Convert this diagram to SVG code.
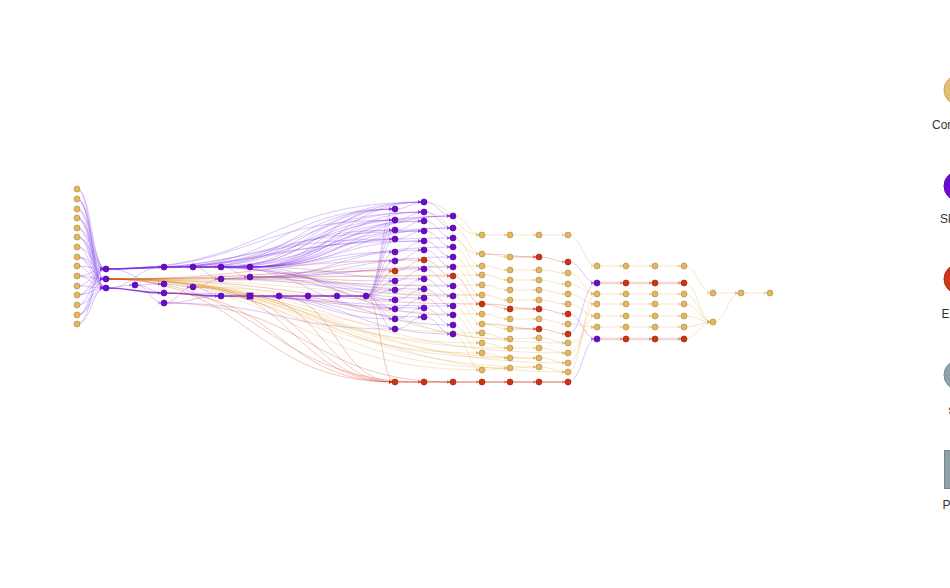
<svg xmlns="http://www.w3.org/2000/svg" width="950" height="588" viewBox="0 0 950 588">
<style>
path{fill:none;stroke-width:1}
.p{stroke:#7b2be6;stroke-opacity:.27;marker-end:url(#mp)}
.t{stroke:#e0a840;stroke-opacity:.27;marker-end:url(#mt)}
.r{stroke:#cc3311;stroke-opacity:.27;marker-end:url(#mr)}
.pb{stroke:#6b0ac9;stroke-opacity:.75;stroke-width:1.6;marker-end:url(#mp)}
.rb{stroke:#cc3311;stroke-opacity:.4;stroke-width:1.8;marker-end:url(#mr)}
.rl{stroke:#d9604a;stroke-opacity:.25;stroke-width:2.6;marker-end:url(#mr)}
.nt{fill:#e0b764;stroke:#b8913f;stroke-width:.7}
.np{fill:#6a0acb;stroke:#53089f;stroke-width:.7}
.nr{fill:#cc3311;stroke:#a2290d;stroke-width:.7}
.lg{font-family:"Liberation Sans",Arial,sans-serif;font-size:12px;fill:#333}
</style>
<defs>
<marker id="mp" viewBox="0 0 10 10" refX="17.5" refY="5" markerWidth="3.5" markerHeight="3.5" markerUnits="userSpaceOnUse" orient="auto"><path d="M0 0L10 5L0 10z" style="fill:#7b2be6;fill-opacity:.4;stroke:none"/></marker>
<marker id="mt" viewBox="0 0 10 10" refX="17.5" refY="5" markerWidth="3.5" markerHeight="3.5" markerUnits="userSpaceOnUse" orient="auto"><path d="M0 0L10 5L0 10z" style="fill:#d9a440;fill-opacity:.4;stroke:none"/></marker>
<marker id="mr" viewBox="0 0 10 10" refX="17.5" refY="5" markerWidth="3.5" markerHeight="3.5" markerUnits="userSpaceOnUse" orient="auto"><path d="M0 0L10 5L0 10z" style="fill:#cc3311;fill-opacity:.4;stroke:none"/></marker>
</defs>
<rect width="950" height="588" fill="#fff"/>
<g id="connectors">
<path class="p" d="M77 189C91.5 189 91.5 269 106 269"/>
<path class="p" d="M77 199C91.5 199 91.5 269 106 269"/>
<path class="p" d="M77 209C91.5 209 91.5 269 106 269"/>
<path class="p" d="M77 218C91.5 218 91.5 269 106 269"/>
<path class="p" d="M77 228C91.5 228 91.5 269 106 269"/>
<path class="p" d="M77 237C91.5 237 91.5 269 106 269"/>
<path class="p" d="M77 247C91.5 247 91.5 269 106 269"/>
<path class="p" d="M77 257C91.5 257 91.5 269 106 269"/>
<path class="p" d="M77 266C91.5 266 91.5 269 106 269"/>
<path class="p" d="M77 276C91.5 276 91.5 269 106 269"/>
<path class="p" d="M77 286C91.5 286 91.5 269 106 269"/>
<path class="p" d="M77 295C91.5 295 91.5 269 106 269"/>
<path class="p" d="M77 305C91.5 305 91.5 269 106 269"/>
<path class="p" d="M77 315C91.5 315 91.5 269 106 269"/>
<path class="p" d="M77 324C91.5 324 91.5 269 106 269"/>
<path class="p" d="M77 189C91.5 189 91.5 288 106 288"/>
<path class="p" d="M77 199C91.5 199 91.5 288 106 288"/>
<path class="p" d="M77 209C91.5 209 91.5 288 106 288"/>
<path class="p" d="M77 218C91.5 218 91.5 288 106 288"/>
<path class="p" d="M77 228C91.5 228 91.5 288 106 288"/>
<path class="p" d="M77 237C91.5 237 91.5 288 106 288"/>
<path class="p" d="M77 247C91.5 247 91.5 288 106 288"/>
<path class="p" d="M77 257C91.5 257 91.5 288 106 288"/>
<path class="p" d="M77 266C91.5 266 91.5 288 106 288"/>
<path class="p" d="M77 276C91.5 276 91.5 288 106 288"/>
<path class="p" d="M77 286C91.5 286 91.5 288 106 288"/>
<path class="p" d="M77 295C91.5 295 91.5 288 106 288"/>
<path class="p" d="M77 305C91.5 305 91.5 288 106 288"/>
<path class="p" d="M77 315C91.5 315 91.5 288 106 288"/>
<path class="p" d="M77 324C91.5 324 91.5 288 106 288"/>
<path class="p" d="M77 199C91.5 199 91.5 279 106 279"/>
<path class="p" d="M77 218C91.5 218 91.5 279 106 279"/>
<path class="p" d="M77 237C91.5 237 91.5 279 106 279"/>
<path class="p" d="M77 257C91.5 257 91.5 279 106 279"/>
<path class="p" d="M77 276C91.5 276 91.5 279 106 279"/>
<path class="p" d="M77 295C91.5 295 91.5 279 106 279"/>
<path class="p" d="M77 315C91.5 315 91.5 279 106 279"/>
<path class="pb" d="M106 269C135 269 135 267 164 267"/>
<path class="p" d="M106 288C120.5 288 120.5 285 135 285"/>
<path class="p" d="M135 285C149.5 285 149.5 284 164 284"/>
<path class="p" d="M135 285C149.5 285 149.5 293 164 293"/>
<path class="p" d="M135 285C149.5 285 149.5 303 164 303"/>
<path class="pb" d="M106 288C135 288 135 293 164 293"/>
<path class="p" d="M106 269C135 269 135 284 164 284"/>
<path class="p" d="M106 288C135 288 135 267 164 267"/>
<path class="pb" d="M164 267L193 267"/>
<path class="pb" d="M193 267L221 267"/>
<path class="pb" d="M221 267L250 267"/>
<path class="p" d="M164 284C178.5 284 178.5 287 193 287"/>
<path class="p" d="M164 303C178.5 303 178.5 287 193 287"/>
<path class="p" d="M193 287C207 287 207 279 221 279"/>
<path class="p" d="M193 287C207 287 207 296 221 296"/>
<path class="pb" d="M164 293C192.5 293 192.5 296 221 296"/>
<path class="p" d="M164 303C192.5 303 192.5 296 221 296"/>
<path class="p" d="M221 279C235.5 279 235.5 277 250 277"/>
<path class="p" d="M221 267C235.5 267 235.5 277 250 277"/>
<path class="p" d="M193 267C207 267 207 279 221 279"/>
<path class="pb" d="M221 296L250 296"/>
<path class="pb" d="M250 296L279 296"/>
<path class="pb" d="M279 296L308 296"/>
<path class="pb" d="M308 296L337 296"/>
<path class="pb" d="M337 296L366 296"/>
<path class="p" d="M250 267C337 267 337 202 424 202"/>
<path class="p" d="M250 267C322.5 267 322.5 209 395 209"/>
<path class="p" d="M250 267C337 267 337 212 424 212"/>
<path class="p" d="M250 267C322.5 267 322.5 220 395 220"/>
<path class="p" d="M250 267C351.5 267 351.5 216 453 216"/>
<path class="p" d="M250 267C337 267 337 221 424 221"/>
<path class="p" d="M250 267C322.5 267 322.5 230 395 230"/>
<path class="p" d="M250 267C351.5 267 351.5 228 453 228"/>
<path class="p" d="M250 267C337 267 337 231 424 231"/>
<path class="p" d="M250 267C322.5 267 322.5 239 395 239"/>
<path class="p" d="M250 267C337 267 337 241 424 241"/>
<path class="p" d="M250 267C322.5 267 322.5 252 395 252"/>
<path class="p" d="M250 267C351.5 267 351.5 247 453 247"/>
<path class="p" d="M221 267C322.5 267 322.5 202 424 202"/>
<path class="p" d="M221 267C308 267 308 209 395 209"/>
<path class="p" d="M221 267C337 267 337 216 453 216"/>
<path class="p" d="M221 267C308 267 308 220 395 220"/>
<path class="p" d="M221 267C322.5 267 322.5 221 424 221"/>
<path class="p" d="M193 267C308.5 267 308.5 202 424 202"/>
<path class="p" d="M193 267C294 267 294 209 395 209"/>
<path class="p" d="M193 267C323 267 323 228 453 228"/>
<path class="p" d="M193 267C308.5 267 308.5 212 424 212"/>
<path class="p" d="M164 267C279.5 267 279.5 209 395 209"/>
<path class="p" d="M164 267C294 267 294 212 424 212"/>
<path class="p" d="M164 267C308.5 267 308.5 216 453 216"/>
<path class="p" d="M164 267C279.5 267 279.5 230 395 230"/>
<path class="p" d="M106 269C265 269 265 202 424 202"/>
<path class="p" d="M106 269C250.5 269 250.5 220 395 220"/>
<path class="p" d="M106 269C279.5 269 279.5 238 453 238"/>
<path class="p" d="M106 269C265 269 265 231 424 231"/>
<path class="p" d="M106 269C250.5 269 250.5 239 395 239"/>
<path class="p" d="M106 269C265 269 265 241 424 241"/>
<path class="p" d="M250 277C322.5 277 322.5 261 395 261"/>
<path class="p" d="M250 277C337 277 337 250 424 250"/>
<path class="p" d="M250 277C351.5 277 351.5 257 453 257"/>
<path class="p" d="M250 277C351.5 277 351.5 267 453 267"/>
<path class="p" d="M250 277C322.5 277 322.5 281 395 281"/>
<path class="p" d="M221 279C322.5 279 322.5 269 424 269"/>
<path class="p" d="M221 279C337 279 337 286 453 286"/>
<path class="p" d="M221 279C308 279 308 290 395 290"/>
<path class="p" d="M250 267C322.5 267 322.5 300 395 300"/>
<path class="p" d="M221 267C308 267 308 309 395 309"/>
<path class="p" d="M193 267C308.5 267 308.5 289 424 289"/>
<path class="p" d="M250 296C322.5 296 322.5 319 395 319"/>
<path class="p" d="M164 303C279.5 303 279.5 329 395 329"/>
<path class="p" d="M221 296C322.5 296 322.5 308 424 308"/>
<path class="p" d="M250 296C337 296 337 317 424 317"/>
<path class="p" d="M279 296C366 296 366 325 453 325"/>
<path class="p" d="M250 296C351.5 296 351.5 334 453 334"/>
<path class="p" d="M164 293C308.5 293 308.5 306 453 306"/>
<path class="p" d="M193 267C323 267 323 296 453 296"/>
<path class="p" d="M250 267C337 267 337 279 424 279"/>
<path class="p" d="M250 277C351.5 277 351.5 315 453 315"/>
<path class="p" d="M221 267C322.5 267 322.5 298 424 298"/>
<path class="p" d="M366 296C380.5 296 380.5 209 395 209"/>
<path class="p" d="M366 296C380.5 296 380.5 220 395 220"/>
<path class="p" d="M366 296C380.5 296 380.5 230 395 230"/>
<path class="p" d="M366 296C380.5 296 380.5 239 395 239"/>
<path class="p" d="M366 296C380.5 296 380.5 252 395 252"/>
<path class="p" d="M366 296C380.5 296 380.5 261 395 261"/>
<path class="r" d="M366 296C380.5 296 380.5 271 395 271"/>
<path class="p" d="M366 296C380.5 296 380.5 281 395 281"/>
<path class="p" d="M366 296C380.5 296 380.5 290 395 290"/>
<path class="p" d="M366 296C380.5 296 380.5 300 395 300"/>
<path class="p" d="M366 296C380.5 296 380.5 309 395 309"/>
<path class="p" d="M366 296C380.5 296 380.5 319 395 319"/>
<path class="p" d="M366 296C380.5 296 380.5 329 395 329"/>
<path class="r" d="M366 296C380.5 296 380.5 382 395 382"/>
<path class="p" d="M395 209C409.5 209 409.5 202 424 202"/>
<path class="p" d="M395 220C409.5 220 409.5 212 424 212"/>
<path class="p" d="M395 230C409.5 230 409.5 221 424 221"/>
<path class="p" d="M395 239C409.5 239 409.5 231 424 231"/>
<path class="p" d="M395 252C409.5 252 409.5 241 424 241"/>
<path class="p" d="M395 261C409.5 261 409.5 250 424 250"/>
<path class="r" d="M395 271C409.5 271 409.5 260 424 260"/>
<path class="p" d="M395 281C409.5 281 409.5 269 424 269"/>
<path class="p" d="M395 290C409.5 290 409.5 279 424 279"/>
<path class="p" d="M395 300C409.5 300 409.5 289 424 289"/>
<path class="p" d="M395 309C409.5 309 409.5 298 424 298"/>
<path class="p" d="M395 319C409.5 319 409.5 308 424 308"/>
<path class="p" d="M395 329C409.5 329 409.5 317 424 317"/>
<path class="p" d="M424 202C438.5 202 438.5 216 453 216"/>
<path class="p" d="M424 212C438.5 212 438.5 228 453 228"/>
<path class="p" d="M424 221C438.5 221 438.5 238 453 238"/>
<path class="p" d="M424 231C438.5 231 438.5 247 453 247"/>
<path class="p" d="M424 241C438.5 241 438.5 257 453 257"/>
<path class="p" d="M424 250C438.5 250 438.5 267 453 267"/>
<path class="r" d="M424 260C438.5 260 438.5 276 453 276"/>
<path class="p" d="M424 269C438.5 269 438.5 286 453 286"/>
<path class="p" d="M424 279C438.5 279 438.5 296 453 296"/>
<path class="p" d="M424 289C438.5 289 438.5 306 453 306"/>
<path class="p" d="M424 298C438.5 298 438.5 315 453 315"/>
<path class="p" d="M424 308C438.5 308 438.5 325 453 325"/>
<path class="p" d="M424 317C438.5 317 438.5 334 453 334"/>
<path class="t" d="M453 216C467.5 216 467.5 235 482 235"/>
<path class="t" d="M453 228C467.5 228 467.5 254 482 254"/>
<path class="t" d="M453 238C467.5 238 467.5 266 482 266"/>
<path class="t" d="M453 247C467.5 247 467.5 275 482 275"/>
<path class="t" d="M453 257C467.5 257 467.5 285 482 285"/>
<path class="t" d="M453 267C467.5 267 467.5 295 482 295"/>
<path class="r" d="M453 276C467.5 276 467.5 304 482 304"/>
<path class="t" d="M453 286C467.5 286 467.5 314 482 314"/>
<path class="t" d="M453 296C467.5 296 467.5 324 482 324"/>
<path class="t" d="M453 306C467.5 306 467.5 333 482 333"/>
<path class="t" d="M453 315C467.5 315 467.5 343 482 343"/>
<path class="t" d="M453 325C467.5 325 467.5 353 482 353"/>
<path class="t" d="M453 334C467.5 334 467.5 370 482 370"/>
<path class="t" d="M424 202C453 202 453 235 482 235"/>
<path class="t" d="M424 212C453 212 453 254 482 254"/>
<path class="rb" d="M395 382L424 382"/>
<path class="rb" d="M424 382L453 382"/>
<path class="rb" d="M453 382L482 382"/>
<path class="rb" d="M482 382L510 382"/>
<path class="rb" d="M510 382L539 382"/>
<path class="rb" d="M539 382L568 382"/>
<path class="t" d="M482 235L510 235"/>
<path class="t" d="M482 254C496 254 496 257 510 257"/>
<path class="t" d="M482 266C496 266 496 270 510 270"/>
<path class="t" d="M482 275C496 275 496 280 510 280"/>
<path class="t" d="M482 285C496 285 496 290 510 290"/>
<path class="t" d="M482 295C496 295 496 300 510 300"/>
<path class="r" d="M482 304C496 304 496 309 510 309"/>
<path class="t" d="M482 314C496 314 496 319 510 319"/>
<path class="t" d="M482 324C496 324 496 329 510 329"/>
<path class="t" d="M482 333C496 333 496 339 510 339"/>
<path class="t" d="M482 343C496 343 496 348 510 348"/>
<path class="t" d="M482 353C496 353 496 358 510 358"/>
<path class="t" d="M482 370C496 370 496 368 510 368"/>
<path class="t" d="M510 235L539 235"/>
<path class="r" d="M510 257L539 257"/>
<path class="t" d="M510 270L539 270"/>
<path class="t" d="M510 280L539 280"/>
<path class="t" d="M510 290L539 290"/>
<path class="t" d="M510 300L539 300"/>
<path class="r" d="M510 309L539 309"/>
<path class="t" d="M510 319L539 319"/>
<path class="r" d="M510 329L539 329"/>
<path class="t" d="M510 339C524.5 339 524.5 338 539 338"/>
<path class="t" d="M510 348L539 348"/>
<path class="t" d="M510 358L539 358"/>
<path class="t" d="M510 368C524.5 368 524.5 367 539 367"/>
<path class="t" d="M539 235L568 235"/>
<path class="r" d="M539 257C553.5 257 553.5 262 568 262"/>
<path class="t" d="M539 270C553.5 270 553.5 273 568 273"/>
<path class="t" d="M539 280C553.5 280 553.5 284 568 284"/>
<path class="t" d="M539 290C553.5 290 553.5 294 568 294"/>
<path class="t" d="M539 300C553.5 300 553.5 304 568 304"/>
<path class="r" d="M539 309C553.5 309 553.5 314 568 314"/>
<path class="t" d="M539 319C553.5 319 553.5 324 568 324"/>
<path class="r" d="M539 329C553.5 329 553.5 334 568 334"/>
<path class="t" d="M539 338C553.5 338 553.5 343 568 343"/>
<path class="t" d="M539 348C553.5 348 553.5 353 568 353"/>
<path class="t" d="M539 358C553.5 358 553.5 363 568 363"/>
<path class="t" d="M539 367C553.5 367 553.5 372 568 372"/>
<path class="r" d="M482 254C510.5 254 510.5 257 539 257"/>
<path class="r" d="M482 324C510.5 324 510.5 329 539 329"/>
<path class="r" d="M482 304C510.5 304 510.5 309 539 309"/>
<path class="t" d="M568 235C582.5 235 582.5 266 597 266"/>
<path class="p" d="M568 262C582.5 262 582.5 283 597 283"/>
<path class="p" d="M568 334C582.5 334 582.5 283 597 283"/>
<path class="p" d="M568 314C582.5 314 582.5 339 597 339"/>
<path class="p" d="M568 382C582.5 382 582.5 339 597 339"/>
<path class="t" d="M568 273C582.5 273 582.5 294 597 294"/>
<path class="t" d="M568 284C582.5 284 582.5 294 597 294"/>
<path class="t" d="M568 294C582.5 294 582.5 304 597 304"/>
<path class="t" d="M568 304C582.5 304 582.5 316 597 316"/>
<path class="t" d="M568 324C582.5 324 582.5 327 597 327"/>
<path class="t" d="M568 343C582.5 343 582.5 327 597 327"/>
<path class="t" d="M568 353C582.5 353 582.5 316 597 316"/>
<path class="t" d="M568 363C582.5 363 582.5 304 597 304"/>
<path class="t" d="M568 372C582.5 372 582.5 294 597 294"/>
<path class="t" d="M597 266L626 266"/>
<path class="t" d="M626 266L655 266"/>
<path class="t" d="M655 266L684 266"/>
<path class="rl" d="M597 283L626 283"/>
<path class="rl" d="M626 283L655 283"/>
<path class="rl" d="M655 283L684 283"/>
<path class="t" d="M597 294L626 294"/>
<path class="t" d="M626 294L655 294"/>
<path class="t" d="M655 294L684 294"/>
<path class="t" d="M597 304L626 304"/>
<path class="t" d="M626 304L655 304"/>
<path class="t" d="M655 304L684 304"/>
<path class="t" d="M597 316L626 316"/>
<path class="t" d="M626 316L655 316"/>
<path class="t" d="M655 316L684 316"/>
<path class="t" d="M597 327L626 327"/>
<path class="t" d="M626 327L655 327"/>
<path class="t" d="M655 327L684 327"/>
<path class="rl" d="M597 339L626 339"/>
<path class="rl" d="M626 339L655 339"/>
<path class="rl" d="M655 339L684 339"/>
<path class="t" d="M684 266C698.5 266 698.5 293 713 293"/>
<path class="t" d="M684 283C698.5 283 698.5 322 713 322"/>
<path class="t" d="M684 294C698.5 294 698.5 322 713 322"/>
<path class="t" d="M684 304C698.5 304 698.5 322 713 322"/>
<path class="t" d="M684 316C698.5 316 698.5 322 713 322"/>
<path class="t" d="M684 327C698.5 327 698.5 322 713 322"/>
<path class="t" d="M684 339C698.5 339 698.5 322 713 322"/>
<path class="t" d="M713 293L741 293"/>
<path class="t" d="M713 322C727 322 727 293 741 293"/>
<path class="t" d="M741 293L770 293"/>
<path class="t" d="M106 279C294 279 294 266 482 266"/>
<path class="t" d="M106 279C294 279 294 275 482 275"/>
<path class="t" d="M106 279C294 279 294 285 482 285"/>
<path class="t" d="M106 279C294 279 294 295 482 295"/>
<path class="t" d="M106 279C294 279 294 314 482 314"/>
<path class="t" d="M106 279C294 279 294 333 482 333"/>
<path class="t" d="M106 279C294 279 294 343 482 343"/>
<path class="t" d="M106 279C294 279 294 353 482 353"/>
<path class="t" d="M106 279C294 279 294 370 482 370"/>
<path class="t" d="M106 279C308 279 308 348 510 348"/>
<path class="t" d="M106 279C308 279 308 358 510 358"/>
<path class="t" d="M106 279C308 279 308 368 510 368"/>
<path class="t" d="M106 279C322.5 279 322.5 358 539 358"/>
<path class="t" d="M106 279C322.5 279 322.5 367 539 367"/>
<path class="t" d="M106 279C337 279 337 353 568 353"/>
<path class="t" d="M106 279C337 279 337 363 568 363"/>
<path class="t" d="M106 279C337 279 337 372 568 372"/>
<path class="t" d="M250 277C366 277 366 295 482 295"/>
<path class="t" d="M250 277C380 277 380 339 510 339"/>
<path class="t" d="M193 287C380.5 287 380.5 343 568 343"/>
<path class="r" d="M106 279C250.5 279 250.5 271 395 271"/>
<path class="r" d="M106 279C265 279 265 260 424 260"/>
<path class="r" d="M106 279C279.5 279 279.5 276 453 276"/>
<path class="r" d="M106 279C250.5 279 250.5 382 395 382"/>
<path class="r" d="M106 279C265 279 265 382 424 382"/>
<path class="r" d="M164 293C279.5 293 279.5 382 395 382"/>
<path class="r" d="M193 287C294 287 294 382 395 382"/>
<path class="r" d="M221 296C308 296 308 382 395 382"/>
<path class="r" d="M250 296C322.5 296 322.5 382 395 382"/>
<path class="r" d="M279 296C337 296 337 382 395 382"/>
<path class="r" d="M164 303C308.5 303 308.5 382 453 382"/>
<path class="r" d="M106 279C294 279 294 304 482 304"/>
</g>
<g id="nodes">
<g id="a0"><circle class="nt" cx="77" cy="189" r="3"/></g>
<g id="a1"><circle class="nt" cx="77" cy="199" r="3"/></g>
<g id="a2"><circle class="nt" cx="77" cy="209" r="3"/></g>
<g id="a3"><circle class="nt" cx="77" cy="218" r="3"/></g>
<g id="a4"><circle class="nt" cx="77" cy="228" r="3"/></g>
<g id="a5"><circle class="nt" cx="77" cy="237" r="3"/></g>
<g id="a6"><circle class="nt" cx="77" cy="247" r="3"/></g>
<g id="a7"><circle class="nt" cx="77" cy="257" r="3"/></g>
<g id="a8"><circle class="nt" cx="77" cy="266" r="3"/></g>
<g id="a9"><circle class="nt" cx="77" cy="276" r="3"/></g>
<g id="a10"><circle class="nt" cx="77" cy="286" r="3"/></g>
<g id="a11"><circle class="nt" cx="77" cy="295" r="3"/></g>
<g id="a12"><circle class="nt" cx="77" cy="305" r="3"/></g>
<g id="a13"><circle class="nt" cx="77" cy="315" r="3"/></g>
<g id="a14"><circle class="nt" cx="77" cy="324" r="3"/></g>
<g id="b0"><circle class="np" cx="106" cy="269" r="3"/></g>
<g id="b1"><circle class="np" cx="106" cy="279" r="3"/></g>
<g id="b2"><circle class="np" cx="106" cy="288" r="3"/></g>
<g id="c0"><circle class="np" cx="135" cy="285" r="3"/></g>
<g id="d0"><circle class="np" cx="164" cy="267" r="3"/></g>
<g id="d1"><circle class="np" cx="164" cy="284" r="3"/></g>
<g id="d2"><circle class="np" cx="164" cy="293" r="3"/></g>
<g id="d3"><circle class="np" cx="164" cy="303" r="3"/></g>
<g id="e0"><circle class="np" cx="193" cy="267" r="3"/></g>
<g id="e1"><circle class="np" cx="193" cy="287" r="3"/></g>
<g id="f0"><circle class="np" cx="221" cy="267" r="3"/></g>
<g id="f1"><circle class="np" cx="221" cy="279" r="3"/></g>
<g id="f2"><circle class="np" cx="221" cy="296" r="3"/></g>
<g id="g0"><circle class="np" cx="250" cy="267" r="3"/></g>
<g id="g1"><circle class="np" cx="250" cy="277" r="3"/></g>
<g id="g2"><rect class="np" x="247" y="293" width="6" height="6"/></g>
<g id="h0"><circle class="np" cx="279" cy="296" r="3"/></g>
<g id="i0"><circle class="np" cx="308" cy="296" r="3"/></g>
<g id="j0"><circle class="np" cx="337" cy="296" r="3"/></g>
<g id="k0"><circle class="np" cx="366" cy="296" r="3"/></g>
<g id="l0"><circle class="np" cx="395" cy="209" r="3"/></g>
<g id="l1"><circle class="np" cx="395" cy="220" r="3"/></g>
<g id="l2"><circle class="np" cx="395" cy="230" r="3"/></g>
<g id="l3"><circle class="np" cx="395" cy="239" r="3"/></g>
<g id="l4"><circle class="np" cx="395" cy="252" r="3"/></g>
<g id="l5"><circle class="np" cx="395" cy="261" r="3"/></g>
<g id="l6"><circle class="nr" cx="395" cy="271" r="3"/></g>
<g id="l7"><circle class="np" cx="395" cy="281" r="3"/></g>
<g id="l8"><circle class="np" cx="395" cy="290" r="3"/></g>
<g id="l9"><circle class="np" cx="395" cy="300" r="3"/></g>
<g id="l10"><circle class="np" cx="395" cy="309" r="3"/></g>
<g id="l11"><circle class="np" cx="395" cy="319" r="3"/></g>
<g id="l12"><circle class="np" cx="395" cy="329" r="3"/></g>
<g id="l13"><circle class="nr" cx="395" cy="382" r="3"/></g>
<g id="m0"><circle class="np" cx="424" cy="202" r="3"/></g>
<g id="m1"><circle class="np" cx="424" cy="212" r="3"/></g>
<g id="m2"><circle class="np" cx="424" cy="221" r="3"/></g>
<g id="m3"><circle class="np" cx="424" cy="231" r="3"/></g>
<g id="m4"><circle class="np" cx="424" cy="241" r="3"/></g>
<g id="m5"><circle class="np" cx="424" cy="250" r="3"/></g>
<g id="m6"><circle class="nr" cx="424" cy="260" r="3"/></g>
<g id="m7"><circle class="np" cx="424" cy="269" r="3"/></g>
<g id="m8"><circle class="np" cx="424" cy="279" r="3"/></g>
<g id="m9"><circle class="np" cx="424" cy="289" r="3"/></g>
<g id="m10"><circle class="np" cx="424" cy="298" r="3"/></g>
<g id="m11"><circle class="np" cx="424" cy="308" r="3"/></g>
<g id="m12"><circle class="np" cx="424" cy="317" r="3"/></g>
<g id="m13"><circle class="nr" cx="424" cy="382" r="3"/></g>
<g id="n0"><circle class="np" cx="453" cy="216" r="3"/></g>
<g id="n1"><circle class="np" cx="453" cy="228" r="3"/></g>
<g id="n2"><circle class="np" cx="453" cy="238" r="3"/></g>
<g id="n3"><circle class="np" cx="453" cy="247" r="3"/></g>
<g id="n4"><circle class="np" cx="453" cy="257" r="3"/></g>
<g id="n5"><circle class="np" cx="453" cy="267" r="3"/></g>
<g id="n6"><circle class="nr" cx="453" cy="276" r="3"/></g>
<g id="n7"><circle class="np" cx="453" cy="286" r="3"/></g>
<g id="n8"><circle class="np" cx="453" cy="296" r="3"/></g>
<g id="n9"><circle class="np" cx="453" cy="306" r="3"/></g>
<g id="n10"><circle class="np" cx="453" cy="315" r="3"/></g>
<g id="n11"><circle class="np" cx="453" cy="325" r="3"/></g>
<g id="n12"><circle class="np" cx="453" cy="334" r="3"/></g>
<g id="n13"><circle class="nr" cx="453" cy="382" r="3"/></g>
<g id="o0"><circle class="nt" cx="482" cy="235" r="3"/></g>
<g id="o1"><circle class="nt" cx="482" cy="254" r="3"/></g>
<g id="o2"><circle class="nt" cx="482" cy="266" r="3"/></g>
<g id="o3"><circle class="nt" cx="482" cy="275" r="3"/></g>
<g id="o4"><circle class="nt" cx="482" cy="285" r="3"/></g>
<g id="o5"><circle class="nt" cx="482" cy="295" r="3"/></g>
<g id="o6"><circle class="nr" cx="482" cy="304" r="3"/></g>
<g id="o7"><circle class="nt" cx="482" cy="314" r="3"/></g>
<g id="o8"><circle class="nt" cx="482" cy="324" r="3"/></g>
<g id="o9"><circle class="nt" cx="482" cy="333" r="3"/></g>
<g id="o10"><circle class="nt" cx="482" cy="343" r="3"/></g>
<g id="o11"><circle class="nt" cx="482" cy="353" r="3"/></g>
<g id="o12"><circle class="nt" cx="482" cy="370" r="3"/></g>
<g id="o13"><circle class="nr" cx="482" cy="382" r="3"/></g>
<g id="p0"><circle class="nt" cx="510" cy="235" r="3"/></g>
<g id="p1"><circle class="nt" cx="510" cy="257" r="3"/></g>
<g id="p2"><circle class="nt" cx="510" cy="270" r="3"/></g>
<g id="p3"><circle class="nt" cx="510" cy="280" r="3"/></g>
<g id="p4"><circle class="nt" cx="510" cy="290" r="3"/></g>
<g id="p5"><circle class="nt" cx="510" cy="300" r="3"/></g>
<g id="p6"><circle class="nr" cx="510" cy="309" r="3"/></g>
<g id="p7"><circle class="nt" cx="510" cy="319" r="3"/></g>
<g id="p8"><circle class="nt" cx="510" cy="329" r="3"/></g>
<g id="p9"><circle class="nt" cx="510" cy="339" r="3"/></g>
<g id="p10"><circle class="nt" cx="510" cy="348" r="3"/></g>
<g id="p11"><circle class="nt" cx="510" cy="358" r="3"/></g>
<g id="p12"><circle class="nt" cx="510" cy="368" r="3"/></g>
<g id="p13"><circle class="nr" cx="510" cy="382" r="3"/></g>
<g id="q0"><circle class="nt" cx="539" cy="235" r="3"/></g>
<g id="q1"><circle class="nr" cx="539" cy="257" r="3"/></g>
<g id="q2"><circle class="nt" cx="539" cy="270" r="3"/></g>
<g id="q3"><circle class="nt" cx="539" cy="280" r="3"/></g>
<g id="q4"><circle class="nt" cx="539" cy="290" r="3"/></g>
<g id="q5"><circle class="nt" cx="539" cy="300" r="3"/></g>
<g id="q6"><circle class="nr" cx="539" cy="309" r="3"/></g>
<g id="q7"><circle class="nt" cx="539" cy="319" r="3"/></g>
<g id="q8"><circle class="nr" cx="539" cy="329" r="3"/></g>
<g id="q9"><circle class="nt" cx="539" cy="338" r="3"/></g>
<g id="q10"><circle class="nt" cx="539" cy="348" r="3"/></g>
<g id="q11"><circle class="nt" cx="539" cy="358" r="3"/></g>
<g id="q12"><circle class="nt" cx="539" cy="367" r="3"/></g>
<g id="q13"><circle class="nr" cx="539" cy="382" r="3"/></g>
<g id="r0"><circle class="nt" cx="568" cy="235" r="3"/></g>
<g id="r1"><circle class="nr" cx="568" cy="262" r="3"/></g>
<g id="r2"><circle class="nt" cx="568" cy="273" r="3"/></g>
<g id="r3"><circle class="nt" cx="568" cy="284" r="3"/></g>
<g id="r4"><circle class="nt" cx="568" cy="294" r="3"/></g>
<g id="r5"><circle class="nt" cx="568" cy="304" r="3"/></g>
<g id="r6"><circle class="nr" cx="568" cy="314" r="3"/></g>
<g id="r7"><circle class="nt" cx="568" cy="324" r="3"/></g>
<g id="r8"><circle class="nr" cx="568" cy="334" r="3"/></g>
<g id="r9"><circle class="nt" cx="568" cy="343" r="3"/></g>
<g id="r10"><circle class="nt" cx="568" cy="353" r="3"/></g>
<g id="r11"><circle class="nt" cx="568" cy="363" r="3"/></g>
<g id="r12"><circle class="nt" cx="568" cy="372" r="3"/></g>
<g id="r13"><circle class="nr" cx="568" cy="382" r="3"/></g>
<g id="s0"><circle class="nt" cx="597" cy="266" r="3"/></g>
<g id="s1"><circle class="np" cx="597" cy="283" r="3"/></g>
<g id="s2"><circle class="nt" cx="597" cy="294" r="3"/></g>
<g id="s3"><circle class="nt" cx="597" cy="304" r="3"/></g>
<g id="s4"><circle class="nt" cx="597" cy="316" r="3"/></g>
<g id="s5"><circle class="nt" cx="597" cy="327" r="3"/></g>
<g id="s6"><circle class="np" cx="597" cy="339" r="3"/></g>
<g id="t0"><circle class="nt" cx="626" cy="266" r="3"/></g>
<g id="t1"><circle class="nr" cx="626" cy="283" r="3"/></g>
<g id="t2"><circle class="nt" cx="626" cy="294" r="3"/></g>
<g id="t3"><circle class="nt" cx="626" cy="304" r="3"/></g>
<g id="t4"><circle class="nt" cx="626" cy="316" r="3"/></g>
<g id="t5"><circle class="nt" cx="626" cy="327" r="3"/></g>
<g id="t6"><circle class="nr" cx="626" cy="339" r="3"/></g>
<g id="u0"><circle class="nt" cx="655" cy="266" r="3"/></g>
<g id="u1"><circle class="nr" cx="655" cy="283" r="3"/></g>
<g id="u2"><circle class="nt" cx="655" cy="294" r="3"/></g>
<g id="u3"><circle class="nt" cx="655" cy="304" r="3"/></g>
<g id="u4"><circle class="nt" cx="655" cy="316" r="3"/></g>
<g id="u5"><circle class="nt" cx="655" cy="327" r="3"/></g>
<g id="u6"><circle class="nr" cx="655" cy="339" r="3"/></g>
<g id="v0"><circle class="nt" cx="684" cy="266" r="3"/></g>
<g id="v1"><circle class="nr" cx="684" cy="283" r="3"/></g>
<g id="v2"><circle class="nt" cx="684" cy="294" r="3"/></g>
<g id="v3"><circle class="nt" cx="684" cy="304" r="3"/></g>
<g id="v4"><circle class="nt" cx="684" cy="316" r="3"/></g>
<g id="v5"><circle class="nt" cx="684" cy="327" r="3"/></g>
<g id="v6"><circle class="nr" cx="684" cy="339" r="3"/></g>
<g id="w0"><circle class="nt" cx="713" cy="293" r="3"/></g>
<g id="w1"><circle class="nt" cx="713" cy="322" r="3"/></g>
<g id="x0"><circle class="nt" cx="741" cy="293" r="3"/></g>
<g id="y0"><circle class="nt" cx="770" cy="293" r="3"/></g>
</g>
<g id="legend">
<g id="lg-1"><circle cx="959" cy="90" r="15" fill="#e4be72" stroke="#cfa95c" stroke-width="1"/><text class="lg" x="932" y="129">Com</text></g>
<g id="lg-2"><circle cx="959" cy="186" r="15" fill="#6e0ad0" stroke="#5a08ad" stroke-width="1"/><text class="lg" x="940" y="223">Sl</text></g>
<g id="lg-3"><circle cx="959" cy="279" r="15" fill="#cc3a1a" stroke="#b02e12" stroke-width="1"/><text class="lg" x="941.5" y="318">E</text></g>
<g id="lg-4"><circle cx="959" cy="375" r="15" fill="#90a3a9" stroke="#7a8d93" stroke-width="1"/><text class="lg" x="948.6" y="414">s</text></g>
<g id="lg-5"><rect x="944.5" y="450.5" width="30" height="38" fill="#8fa0a6" stroke="#75878d" stroke-width="1"/><text class="lg" x="942.5" y="509">P</text></g>
</g>
</svg>
